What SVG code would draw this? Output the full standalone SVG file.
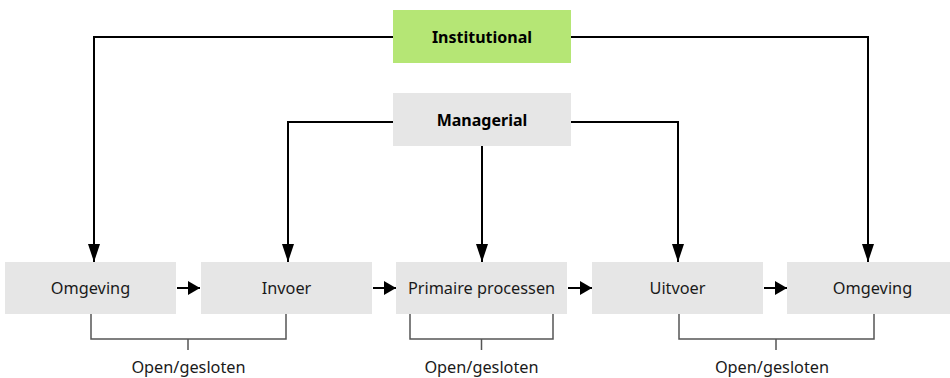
<svg xmlns="http://www.w3.org/2000/svg" width="950" height="378" viewBox="0 0 950 378">
<defs>
<marker id="ah" viewBox="0 0 12 14" refX="12" refY="7" markerWidth="12" markerHeight="14" markerUnits="userSpaceOnUse" orient="auto">
<path d="M0,0 L12,7 L0,14 Z" fill="#000"/>
</marker>
<marker id="ad" viewBox="0 0 18 12" refX="18" refY="6" markerWidth="18" markerHeight="12" markerUnits="userSpaceOnUse" orient="auto">
<path d="M0,0 L18,6 L0,12 Z" fill="#000"/>
</marker>
</defs>
<style>
.box{fill:#e6e6e6}
.inst{fill:#b5e675}
.t{font-family:"Noto Sans","Open Sans","DejaVu Sans",sans-serif;font-size:16.3px;fill:#1a1a1a;text-anchor:middle;dominant-baseline:central}
.b{font-weight:bold;font-size:16px;fill:#000}
.c{fill:none;stroke:#000;stroke-width:2}
.br{fill:none;stroke:#555;stroke-width:1.5}
</style>
<rect width="950" height="378" fill="#fff"/>
<g id="connectors">
<path class="c" d="M393,37 H94 V262" marker-end="url(#ad)"/>
<path class="c" d="M571,37 H868 V262" marker-end="url(#ad)"/>
<path class="c" d="M393,122 H288 V262" marker-end="url(#ad)"/>
<path class="c" d="M571,122 H678 V262" marker-end="url(#ad)"/>
<path class="c" d="M482,146 V262" marker-end="url(#ad)"/>
<path class="c" d="M177,288 H200" marker-end="url(#ah)"/>
<path class="c" d="M373,288 H396" marker-end="url(#ah)"/>
<path class="c" d="M568,288 H592" marker-end="url(#ah)"/>
<path class="c" d="M764,288 H787" marker-end="url(#ah)"/>
</g>
<g id="brackets">
<path class="br" d="M91,314 V339 H286 V314 M188,339 V350"/>
<path class="br" d="M410,314 V339 H553 V314 M481.5,339 V350"/>
<path class="br" d="M679,314 V339 H874 V314 M776,339 V350"/>
</g>
<g id="institutional"><rect class="inst" x="393" y="10" width="178" height="53"/><text class="t b" x="482" y="37">Institutional</text></g>
<g id="managerial"><rect class="box" x="393" y="93" width="178" height="53"/><text class="t b" x="482" y="120">Managerial</text></g>
<g id="omgeving1"><rect class="box" x="5" y="262" width="171" height="52"/><text class="t" x="90.5" y="288">Omgeving</text></g>
<g id="invoer"><rect class="box" x="201" y="262" width="171" height="52"/><text class="t" x="286.5" y="288">Invoer</text></g>
<g id="primaire"><rect class="box" x="396" y="262" width="171" height="52"/><text class="t" x="481.5" y="288">Primaire processen</text></g>
<g id="uitvoer"><rect class="box" x="592" y="262" width="171" height="52"/><text class="t" x="677.5" y="288">Uitvoer</text></g>
<g id="omgeving2"><rect class="box" x="787" y="262" width="171" height="52"/><text class="t" x="872.5" y="288">Omgeving</text></g>
<g id="labels">
<text class="t" x="188.5" y="367">Open/gesloten</text>
<text class="t" x="481.5" y="367">Open/gesloten</text>
<text class="t" x="772" y="367">Open/gesloten</text>
</g>
</svg>
